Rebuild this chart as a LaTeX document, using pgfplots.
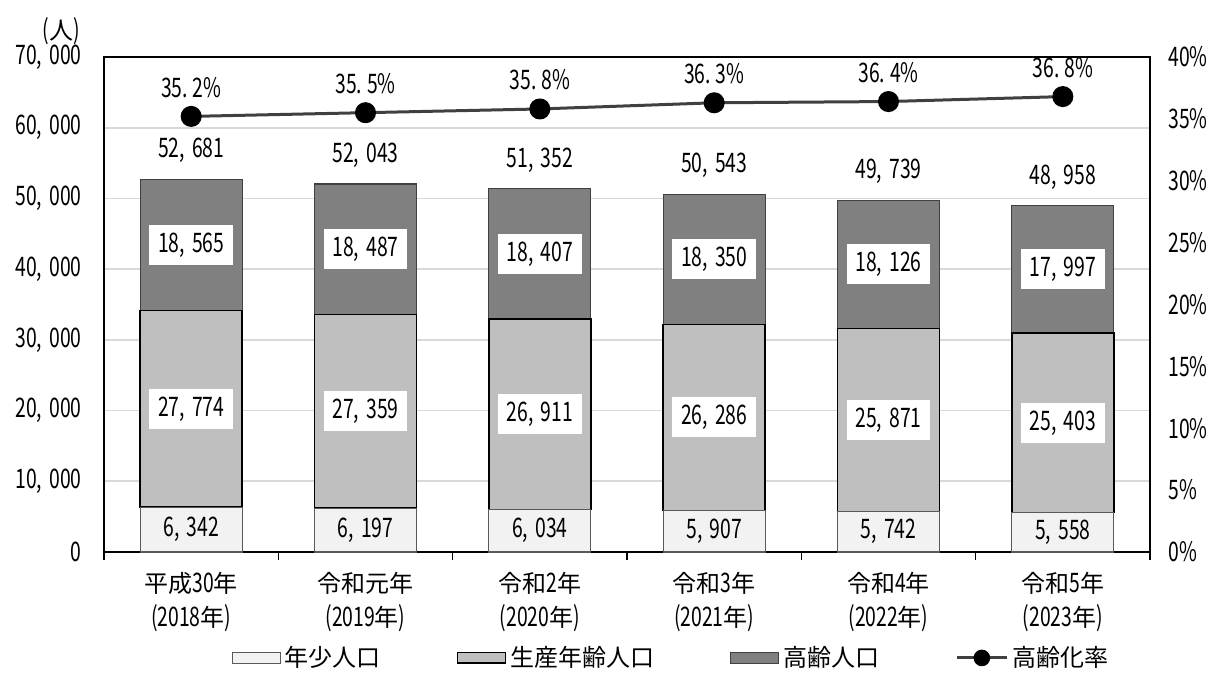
\documentclass[border=0pt]{standalone}
\usepackage{fontspec}
\usepackage{pgfplots}
\pgfplotsset{compat=1.18}
\usepackage{pgfplotstable}
\setmainfont{Noto Sans CJK JP}
% condensed face for figures
\newfontfamily\numfont[FakeStretch=0.72,Scale=1.12]{Noto Sans CJK JP}
\newcommand\lbl{\fontsize{12}{14}\numfont}
\newcommand\thsep{,\hspace{3.6pt}}

\definecolor{youngfill}{HTML}{F2F2F2}
\definecolor{workfill}{HTML}{BFBFBF}
\definecolor{oldfill}{HTML}{808080}
\definecolor{edgegray}{HTML}{595959}
\definecolor{gridgray}{HTML}{D9D9D9}
\definecolor{linegray}{HTML}{404040}

% population by age group and ageing rate
\pgfplotstableread{
x young working elderly total rate
0 6342 27774 18565 52681 35.2
1 6197 27359 18487 52043 35.5
2 6034 26911 18407 51352 35.8
3 5907 26286 18350 50543 36.3
4 5742 25871 18126 49739 36.4
5 5558 25403 17997 48958 36.8
}\poptable

\pgfplotsset{
  common/.style={
    at={(52pt,60.5pt)}, anchor=south west,
    width=523pt, height=247.5pt, scale only axis,
    clip=false, xmin=-0.5, xmax=5.5,
    /pgf/number format/assume math mode=true},
  box legend/.style={legend image code/.code={
      \draw[##1] (0pt,-2.6pt) rectangle (24pt,2.6pt);}},
  dot legend/.style={legend image code/.code={
      \draw[##1] (0pt,0pt) -- (25pt,0pt);
      \fill[black] (12.5pt,0pt) circle (3.4pt);}},
  num label/.style={draw=none, mark=none, only marks,
    point meta=explicit,
    nodes near coords={\pgfmathprintnumber[fixed,precision=0,1000 sep={\thsep},assume math mode=true]{\pgfplotspointmeta}},
    every node near coord/.append style={anchor=center, font=\lbl, text=black}},
  boxed/.style={every node near coord/.append style={fill=white,
      inner xsep=4.3pt, inner ysep=0pt, minimum height=20pt}},
}

\begin{document}
\begin{tikzpicture}
\useasboundingbox (0,0) rectangle (604pt,336.5pt);
\begin{axis}[
  common,
  ybar stacked, bar width=0.585,
  ymin=0, ymax=70000,
  xtick={0,...,5},
  xticklabels={
    {平成{\numfont 30}年\\{\numfont(2018}年{\numfont)}},
    {令和元年\\{\numfont(2019}年{\numfont)}},
    {令和{\numfont 2}年\\{\numfont(2020}年{\numfont)}},
    {令和{\numfont 3}年\\{\numfont(2021}年{\numfont)}},
    {令和{\numfont 4}年\\{\numfont(2022}年{\numfont)}},
    {令和{\numfont 5}年\\{\numfont(2023}年{\numfont)}}},
  minor xtick={-0.5,0.5,...,5.5},
  xtick pos=left, ytick pos=left,
  ytick={0,10000,...,70000},
  scaled y ticks=false,
  major tick length=0pt, minor tick length=4pt, tick align=outside,
  minor tick style={black, line width=0.6pt},
  ymajorgrids, grid style={gridgray, line width=0.8pt},
  axis line style={line width=0.6pt},
  yticklabel style={font=\lbl, inner sep=0pt, xshift=-11pt,
    /pgf/number format/1000 sep={\thsep}},
  xticklabel style={font=\fontsize{12}{17}\selectfont, align=center,
    inner sep=0pt, anchor=north, yshift=-10pt},
  legend style={at={(0.543,-0.214)}, anchor=center, draw=none,
    font=\fontsize{12}{14}\selectfont, legend columns=4,
    /tikz/every even column/.append style={column sep=36pt}},
]
\addplot[fill=youngfill, draw=edgegray, line width=0.6pt, box legend]
  table[x=x, y=young] {\poptable};
\addlegendentry{年少人口}
\addplot[fill=workfill, draw=black, line width=0.7pt, box legend]
  table[x=x, y=working] {\poptable};
\addlegendentry{生産年齢人口}
\addplot[fill=oldfill, draw=linegray, line width=0.6pt, box legend]
  table[x=x, y=elderly] {\poptable};
\addlegendentry{高齢人口}
\addlegendimage{linegray, line width=1.5pt, dot legend}
\addlegendentry{高齢化率}
\draw[line width=1.2pt] (rel axis cs:0,1) -- (rel axis cs:0,0) -- (rel axis cs:1,0);
\node[font=\fontsize{12}{14}\selectfont, inner sep=0pt] at (axis description cs:-0.0411,1.052)
  {{\numfont(}人{\numfont)}};
\end{axis}

% value labels: middle of each segment, and totals above the stacks
\begin{axis}[common, hide axis, ymin=0, ymax=70000]
\addplot[num label]
  table[x=x, y expr={\thisrow{young}/2}, meta=young] {\poptable};
\addplot[num label, boxed]
  table[x=x, y expr={\thisrow{young}+\thisrow{working}/2}, meta=working] {\poptable};
\addplot[num label, boxed]
  table[x=x, y expr={\thisrow{young}+\thisrow{working}+\thisrow{elderly}/2}, meta=elderly] {\poptable};
\addplot[num label, every node near coord/.append style={yshift=14.5pt}]
  table[x=x, y=total, meta=total] {\poptable};
\end{axis}

\begin{axis}[
  common,
  ymin=0, ymax=40,
  axis x line=none, axis y line*=right,
  axis line style={draw=none},
  ytick={0,5,...,40}, major tick length=0pt,
  yticklabel={\pgfmathprintnumber{\tick}\%},
  yticklabel style={font=\lbl, inner sep=0pt, xshift=9pt, anchor=west},
]
\addplot[linegray, line width=1.5pt, mark=*, mark size=4.5pt,
  mark options={fill=black, draw=black},
  nodes near coords={\pgfmathprintnumber[fixed,fixed zerofill,precision=1,dec sep={.\hspace{2.4pt}},assume math mode=true]{\pgfplotspointmeta}\%},
  point meta=explicit,
  every node near coord/.append style={anchor=center, yshift=14.5pt,
    font=\lbl, text=black}]
  table[x=x, y=rate, meta=rate] {\poptable};
\end{axis}
\end{tikzpicture}
\end{document}
